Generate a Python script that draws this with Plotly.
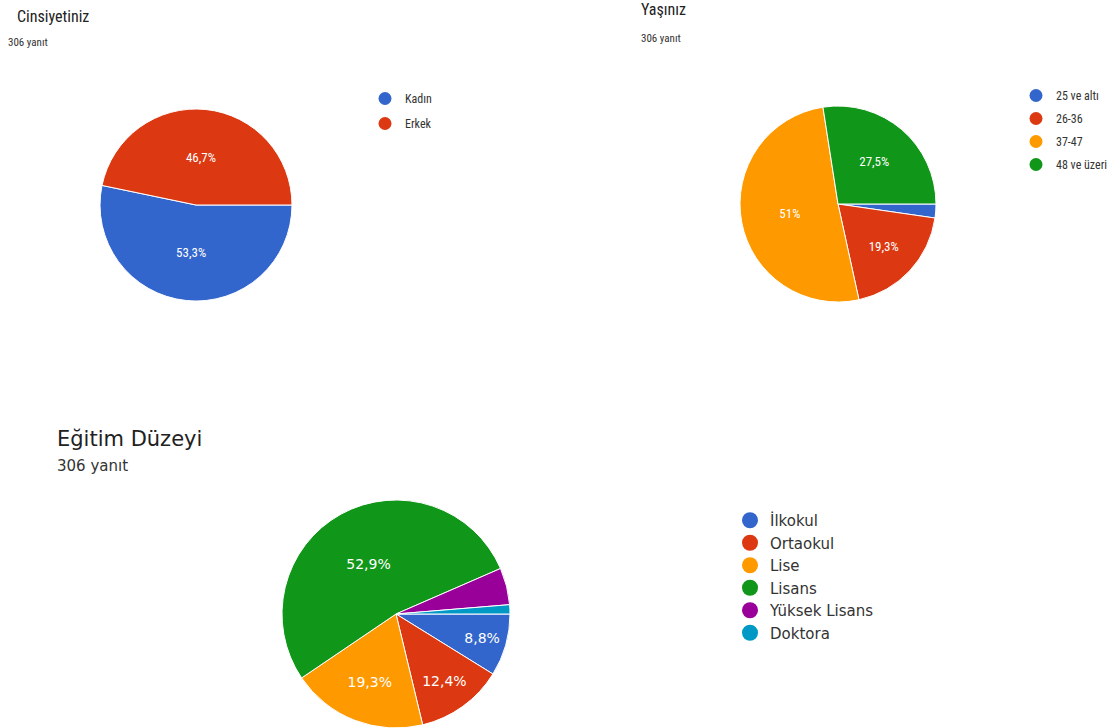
import plotly.graph_objects as go

# ---------------- data ----------------
gender_labels = ["Kadın", "Erkek"]
gender_values = [163, 143]

age_labels = ["25 ve altı", "26-36", "37-47", "48 ve üzeri"]
age_values = [7, 59, 156, 84]

edu_labels = ["İlkokul", "Ortaokul", "Lise", "Lisans", "Yüksek Lisans", "Doktora"]
edu_values = [27, 38, 59, 162, 16, 4]

palette = ["#3366CC", "#DC3912", "#FF9900", "#109618", "#990099", "#0099C6"]

titles = ["Cinsiyetiniz", "Yaşınız", "Eğitim Düzeyi"]
subtitle = "306 yanıt"

W, H = 1115, 728
NARROW = "Liberation Sans Narrow, Arial Narrow, Roboto Condensed, Liberation Sans, sans-serif"
WIDE = "DejaVu Sans, Verdana, sans-serif"


def pct_text(values, threshold=6.0):
    total = sum(values)
    out = []
    for v in values:
        p = round(v / total * 100, 1)
        if p < threshold:
            out.append("")
            continue
        s = f"{p:.1f}"
        if s.endswith(".0"):
            s = s[:-2]
        out.append(s.replace(".", ",") + "%")
    return out


def dom(cx, cy, r):
    """pixel centre/radius -> paper domain"""
    return dict(x=[(cx - r) / W, (cx + r) / W],
                y=[(H - cy - r) / H, (H - cy + r) / H])


fig = go.Figure()

pies = [
    (gender_labels, gender_values, dom(196, 205, 96), NARROW, 13, "legend"),
    (age_labels, age_values, dom(838, 204, 98), NARROW, 13, "legend2"),
    (edu_labels, edu_values, dom(396, 614, 114), WIDE, 14, "legend3"),
]

for labels, values, domain, fam, fs, lg in pies:
    fig.add_trace(go.Pie(
        labels=labels, values=values, text=pct_text(values),
        textinfo="text", textposition="inside",
        insidetextorientation="horizontal",
        textfont=dict(color="white", family=fam, size=fs),
        marker=dict(colors=palette[:len(values)], line=dict(color="white", width=1)),
        sort=False, direction="clockwise", rotation=90,
        domain=domain, showlegend=False, hoverinfo="label+percent",
    ))
    for i, lab in enumerate(labels):
        fig.add_trace(go.Scatter(
            x=[None], y=[None], mode="markers", name=lab,
            marker=dict(symbol="circle", size=13 if lg != "legend3" else 17,
                        color=palette[i]),
            legend=lg, legendgroup=lg + str(i), showlegend=True,
            hoverinfo="skip",
        ))

annots = [
    (titles[0], 15, 16, NARROW, 16, "#212121"),
    (subtitle, 6, 42, NARROW, 11, "#333333"),
    (titles[1], 639, 10, NARROW, 16, "#212121"),
    (subtitle, 639, 38, NARROW, 11, "#333333"),
    (titles[2], 55, 439, WIDE, 21, "#212121"),
    (subtitle, 55, 466, WIDE, 15, "#333333"),
]
for txt, x, y, fam, fs, col in annots:
    fig.add_annotation(text=txt, x=x / W, y=1 - y / H, xref="paper", yref="paper",
                       xanchor="left", yanchor="middle", showarrow=False,
                       font=dict(family=fam, size=fs, color=col))

fig.update_layout(
    width=W, height=H, margin=dict(l=0, r=0, t=0, b=0),
    paper_bgcolor="white", plot_bgcolor="white",
    xaxis=dict(visible=False), yaxis=dict(visible=False),
    legend=dict(x=365 / W, y=1 - 84 / H, xanchor="left", yanchor="top",
                font=dict(family=NARROW, size=12, color="#333333"),
                tracegroupgap=6, itemwidth=30, bgcolor="rgba(0,0,0,0)"),
    legend2=dict(x=1016 / W, y=1 - 81 / H, xanchor="left", yanchor="top",
                 font=dict(family=NARROW, size=12, color="#333333"),
                 tracegroupgap=4, itemwidth=30, bgcolor="rgba(0,0,0,0)"),
    legend3=dict(x=730 / W, y=1 - 504 / H, xanchor="left", yanchor="top",
                 font=dict(family=WIDE, size=15, color="#333333"),
                 tracegroupgap=0, itemwidth=30, bgcolor="rgba(0,0,0,0)"),
)

fig.write_html("out.html", post_script="document.body.style.margin='0';",
               config={"displayModeBar": False})
